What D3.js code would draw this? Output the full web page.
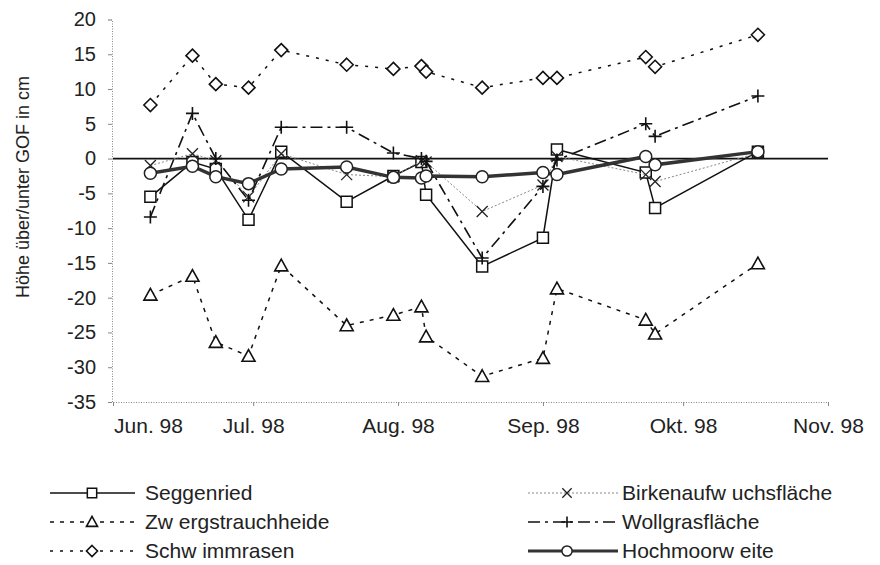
<!DOCTYPE html>
<html><head><meta charset="utf-8">
<script src="https://cdn.jsdelivr.net/npm/d3@7"></script>
<style>
html,body{margin:0;padding:0;background:#fff;}
svg text{font-family:"Liberation Sans",Arial,sans-serif;fill:#222;}
</style></head>
<body><svg id="c" width="880" height="565"></svg>
<script>
const dates = ["1998-06-09","1998-06-18","1998-06-23","1998-06-30","1998-07-07","1998-07-21","1998-07-31","1998-08-06","1998-08-07","1998-08-19","1998-09-01","1998-09-04","1998-09-23","1998-09-25","1998-10-17"];
const seggenried = [-5.5,-0.5,-1.5,-8.8,1.0,-6.2,-2.5,-0.5,-5.2,-15.5,-11.4,1.3,-2.0,-7.1,1.0];
const zwergstrauchheide = [-19.6,-16.9,-26.4,-28.4,-15.4,-24.0,-22.5,-21.3,-25.6,-31.3,-28.7,-18.7,-23.2,-25.2,-15.1];
const schwimmrasen = [7.7,14.8,10.7,10.2,15.6,13.5,12.9,13.3,12.5,10.2,11.6,11.6,14.6,13.2,17.8];
const birkenaufwuchs = [-1.0,0.7,-0.3,-5.5,0.7,-2.3,-2.6,-0.3,-0.5,-7.6,-3.8,0.3,-2.3,-3.3,0.8];
const wollgras = [-8.4,6.5,0.0,-6.0,4.5,4.5,0.8,0.0,-0.4,-14.3,-4.0,-0.2,5.0,3.2,9.0];
const hochmoorweite = [-2.1,-1.1,-2.6,-3.6,-1.5,-1.2,-2.7,-2.8,-2.5,-2.6,-2.0,-2.3,0.3,-0.9,1.0];
const seriesNames = ["Seggenried","Zw ergstrauchheide","Schw immrasen","Birkenaufw uchsfläche","Wollgrasfläche","Hochmoorw eite"];
const yTicks = [20,15,10,5,0,-5,-10,-15,-20,-25,-30,-35];
const xTickDates = ["1998-06-01","1998-07-01","1998-08-01","1998-09-01","1998-10-01","1998-11-01"];
const xTickLabels = ["Jun. 98","Jul. 98","Aug. 98","Sep. 98","Okt. 98","Nov. 98"];
const yTitle = "Höhe über/unter GOF in cm";

const parse = d3.utcParse("%Y-%m-%d");
const svg = d3.select("#c");
const x = d3.scaleUtc().domain([parse("1998-06-01"), parse("1998-11-01")]).range([113, 828]);
const y = d3.scaleLinear().domain([-35, 20]).range([402, 19.5]);

// axes
const yAxis = d3.axisLeft(y).tickValues(yTicks).tickSize(4).tickPadding(12).tickFormat(d=>String(d));
const gy = svg.append("g").attr("transform","translate(112,0)").call(yAxis);
gy.select(".domain").attr("stroke","#888").attr("stroke-dasharray","1,1.5");
gy.selectAll(".tick line").attr("stroke","#888");
gy.selectAll(".tick text").attr("font-size",20).attr("font-family","Liberation Sans, Arial, sans-serif").attr("fill","#222");

const xAxis = d3.axisBottom(x).tickValues(xTickDates.map(parse)).tickSize(4).tickSizeOuter(0).tickPadding(12)
  .tickFormat((d,i)=>xTickLabels[i]);
const gx = svg.append("g").attr("transform","translate(0,402)").call(xAxis);
gx.select(".domain").attr("stroke","#888").attr("stroke-dasharray","1,1.5");
gx.selectAll(".tick line").attr("stroke","#888");
gx.selectAll(".tick text").attr("font-size",21).attr("font-family","Liberation Sans, Arial, sans-serif").attr("fill","#222");
gx.selectAll(".tick text").filter((d,i)=>i===0).attr("dx", 35);

svg.append("text").attr("transform","translate(29,187) rotate(-90)").attr("text-anchor","middle")
  .attr("font-size",18).text(yTitle);

// zero line
svg.append("line").attr("x1",113).attr("x2",828).attr("y1",y(0)).attr("y2",y(0))
  .attr("stroke","#111").attr("stroke-width",1.6);

// marker paths
function markerPath(type, s){
  const h=s/2;
  switch(type){
    case "square": return `M${-h},${-h}H${h}V${h}H${-h}Z`;
    case "triangle": return `M0,${-h}L${h},${h*0.8}L${-h},${h*0.8}Z`;
    case "diamond": return `M0,${-h}L${h},0L0,${h}L${-h},0Z`;
    case "x": return `M${-h},${-h}L${h},${h}M${h},${-h}L${-h},${h}`;
    case "plus": return `M${-h},0H${h}M0,${-h}V${h}`;
    case "circle": return `M${h},0A${h},${h} 0 1,1 ${-h},0A${h},${h} 0 1,1 ${h},0Z`;
  }
}

const series = [
  {name:seriesNames[0], values:seggenried, dash:null, stroke:"#111", width:1.5, marker:"square", msize:11, mfill:"#fff", mstroke:"#111", mw:1.5},
  {name:seriesNames[1], values:zwergstrauchheide, dash:"4,6", stroke:"#111", width:1.5, marker:"triangle", msize:13, mfill:"#fff", mstroke:"#111", mw:1.6},
  {name:seriesNames[2], values:schwimmrasen, dash:"3,7", stroke:"#111", width:1.5, marker:"diamond", msize:13, mfill:"#fff", mstroke:"#111", mw:1.6},
  {name:seriesNames[3], values:birkenaufwuchs, dash:"2,2", stroke:"#888", width:1, marker:"x", msize:11, mfill:"none", mstroke:"#222", mw:1.3},
  {name:seriesNames[4], values:wollgras, dash:"12,5,3,5", stroke:"#111", width:1.6, marker:"plus", msize:13, mfill:"none", mstroke:"#111", mw:1.6},
  {name:seriesNames[5], values:hochmoorweite, dash:null, stroke:"#333", width:3.5, marker:"circle", msize:12, mfill:"#fff", mstroke:"#222", mw:1.5}
];

const line = d3.line().x(d=>x(d.date)).y(d=>y(d.v));
series.forEach(s=>{
  const pts = dates.map((d,i)=>({date:parse(d), v:s.values[i]}));
  const g = svg.append("g");
  g.append("path").datum(pts).attr("d",line).attr("fill","none").attr("stroke",s.stroke)
    .attr("stroke-width",s.width).attr("stroke-dasharray",s.dash);
  g.selectAll("path.m").data(pts).join("path").attr("class","m")
    .attr("transform",d=>`translate(${x(d.date)},${y(d.v)})`)
    .attr("d",markerPath(s.marker,s.msize)).attr("fill",s.mfill).attr("stroke",s.mstroke).attr("stroke-width",s.mw);
});

// legend
const legPos = [
  {x1:50,x2:135,mx:92,tx:145,ty:493},
  {x1:50,x2:135,mx:92,tx:145,ty:522},
  {x1:50,x2:135,mx:92,tx:145,ty:551},
  {x1:528,x2:618,mx:567,tx:622,ty:493},
  {x1:528,x2:618,mx:567,tx:622,ty:522},
  {x1:528,x2:618,mx:567,tx:622,ty:551}
];
series.forEach((s,i)=>{
  const p = legPos[i];
  const g = svg.append("g");
  g.append("line").attr("x1",p.x1).attr("x2",p.x2).attr("y1",p.ty).attr("y2",p.ty)
    .attr("stroke",s.stroke).attr("stroke-width",Math.min(s.width,3)).attr("stroke-dasharray",s.dash);
  g.append("path").attr("transform",`translate(${p.mx},${p.ty})`).attr("d",markerPath(s.marker,s.msize*0.85))
    .attr("fill",s.mfill).attr("stroke",s.mstroke).attr("stroke-width",s.mw);
  g.append("text").attr("x",p.tx).attr("y",p.ty).attr("dy","0.35em").attr("font-size",21).text(s.name);
});
</script></body></html>
